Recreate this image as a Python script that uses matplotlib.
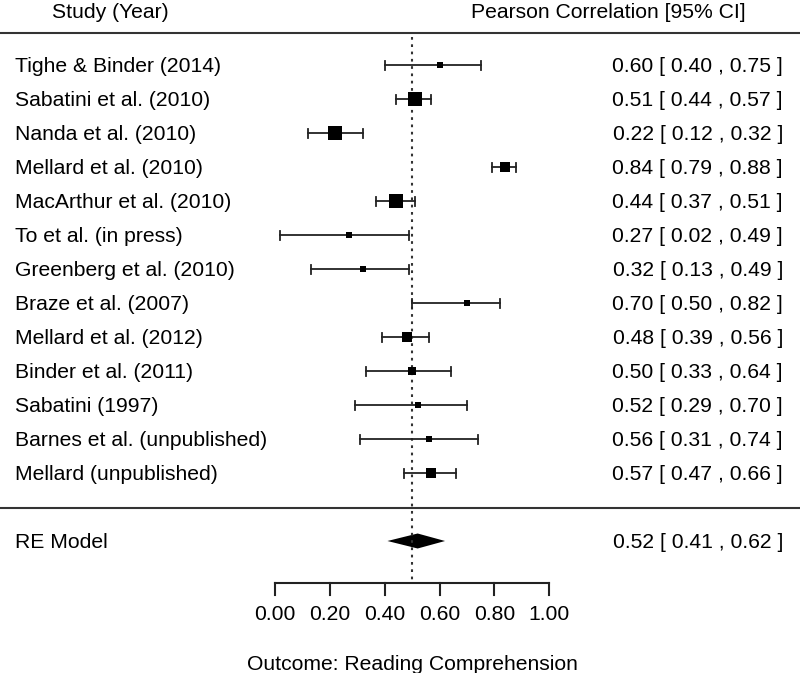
import matplotlib.pyplot as plt
import numpy as np
from matplotlib.patches import Polygon

plt.rcParams['font.family'] = ['Liberation Sans', 'DejaVu Sans']

# study data
studies = ['Tighe & Binder (2014)', 'Sabatini et al. (2010)', 'Nanda et al. (2010)',
           'Mellard et al. (2010)', 'MacArthur et al. (2010)', 'To et al. (in press)',
           'Greenberg et al. (2010)', 'Braze et al. (2007)', 'Mellard et al. (2012)',
           'Binder et al. (2011)', 'Sabatini (1997)', 'Barnes et al. (unpublished)',
           'Mellard (unpublished)']
est = [0.60, 0.51, 0.22, 0.84, 0.44, 0.27, 0.32, 0.70, 0.48, 0.50, 0.52, 0.56, 0.57]
ci_lo = [0.40, 0.44, 0.12, 0.79, 0.37, 0.02, 0.13, 0.50, 0.39, 0.33, 0.29, 0.31, 0.47]
ci_hi = [0.75, 0.57, 0.32, 0.88, 0.51, 0.49, 0.49, 0.82, 0.56, 0.64, 0.70, 0.74, 0.66]
# relative weights (square size in px)
weights = [5.5, 14, 13.5, 9.5, 15, 5.5, 7, 5.5, 11, 7.5, 5.5, 5.5, 10.5]

re_label = 'RE Model'
re_est, re_lo, re_hi = 0.52, 0.41, 0.62
ref_line = 0.5
xticks = [0.0, 0.2, 0.4, 0.6, 0.8, 1.0]
xlabel = 'Outcome: Reading Comprehension'

W, H = 800, 673
fig = plt.figure(figsize=(W / 100, H / 100), dpi=100)
ax = fig.add_axes([0, 0, 1, 1])
ax.axis('off')

# map pixels: x=0 -> 275 px, x=1 -> 549.3 px; row k -> 65 + 34k px
px_per_unit = 274.3
x0_px = 275.0
ax.set_xlim(-x0_px / px_per_unit, (W - x0_px) / px_per_unit)
row_h = 34.0
row0_px = 65.0
ax.set_ylim((H - row0_px) / row_h, -row0_px / row_h)


def px2x(p):
    return (p - x0_px) / px_per_unit


def px2y(p):
    return (p - row0_px) / row_h


fs = 15.2
n = len(studies)
rows = np.arange(n)
re_row = n + 1
dy = 2.0 / row_h  # text sits a touch lower than 'center'

# header
ax.text(px2x(52), px2y(13), 'Study (Year)', fontsize=fs, ha='left', va='center')
ax.text(px2x(746), px2y(13), 'Pearson Correlation [95% CI]', fontsize=fs, ha='right', va='center')
ax.axhline(px2y(32.5), color='#333333', lw=1.5)
ax.axhline(px2y(508), color='#333333', lw=1.5)

# reference line
ax.plot([ref_line, ref_line], [px2y(37), px2y(580)], color='#333333', lw=1.5,
        linestyle=(0, (1.3, 2.2)))

cap = 4.5 / row_h
for k in rows:
    ax.plot([ci_lo[k], ci_hi[k]], [k, k], color='#222222', lw=1.3)
    for xc in (ci_lo[k], ci_hi[k]):
        ax.plot([xc, xc], [k - cap, k + cap], color='#222222', lw=1.3)
    ax.plot(est[k], k, marker='s', color='black', markersize=weights[k] / 1.389,
            markeredgewidth=0)
    ax.text(px2x(15), k + dy, studies[k], fontsize=fs, ha='left', va='center')
    ax.text(px2x(783), k + dy, '%.2f [ %.2f , %.2f ]' % (est[k], ci_lo[k], ci_hi[k]),
            fontsize=fs, ha='right', va='center')

# summary diamond
dh = 7.5 / row_h
ax.add_patch(Polygon([[re_lo, re_row], [re_est, re_row - dh], [re_hi, re_row],
                      [re_est, re_row + dh]], closed=True, color='black', lw=0))
ax.text(px2x(15), re_row + dy, re_label, fontsize=fs, ha='left', va='center')
ax.text(px2x(783), re_row + dy, '%.2f [ %.2f , %.2f ]' % (re_est, re_lo, re_hi),
        fontsize=fs, ha='right', va='center')

# x axis
y_ax = px2y(583)
ax.plot([xticks[0], xticks[-1]], [y_ax, y_ax], color='#222222', lw=1.5)
for t in xticks:
    ax.plot([t, t], [y_ax, px2y(595)], color='#222222', lw=1.5)
    ax.text(t, px2y(614), '%.2f' % t, fontsize=fs, ha='center', va='center')
ax.text(np.mean([xticks[0], xticks[-1]]), px2y(664), xlabel, fontsize=fs,
        ha='center', va='center')

fig.savefig('out.png', dpi=100)
